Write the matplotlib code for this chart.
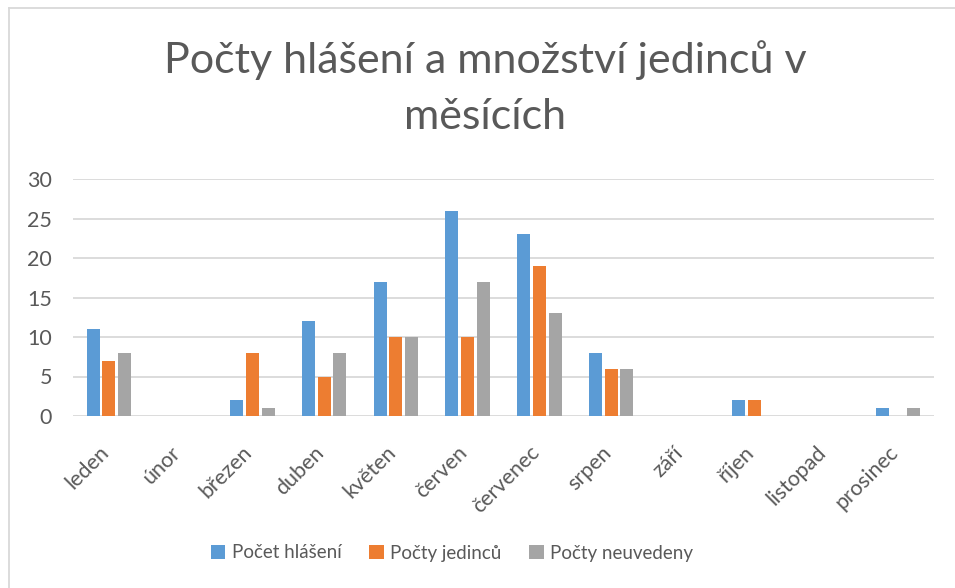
import matplotlib
matplotlib.use("Agg")
import matplotlib.pyplot as plt
import matplotlib.transforms as mtransforms
from matplotlib.lines import Line2D
import numpy as np

plt.rcParams['font.family'] = ['Lato', 'DejaVu Sans']

months = ["leden", "únor", "březen", "duben", "květen", "červen",
          "červenec", "srpen", "září", "říjen", "listopad", "prosinec"]
pocet_hlaseni = [11, 0, 2, 12, 17, 26, 23, 8, 0, 2, 0, 1]
pocty_jedincu = [7, 0, 8, 5, 10, 10, 19, 6, 0, 2, 0, 0]
pocty_neuvedeny = [8, 0, 1, 8, 10, 17, 13, 6, 0, 0, 0, 1]
series_names = ["Počet hlášení", "Počty jedinců", "Počty neuvedeny"]
colors = ["#5B9BD5", "#ED7D31", "#A5A5A5"]
title = "Počty hlášení a množství jedinců v\nměsících"

W, H = 955, 588
fig = plt.figure(figsize=(W / 100, H / 100), dpi=100)
txt = "#595959"

ax = fig.add_axes([73 / W, 1 - 416 / H, (934 - 73) / W, (416 - 179) / H])
x = np.arange(len(months))
bw = 0.18
off = 0.22
for i, (vals, c, name) in enumerate(zip([pocet_hlaseni, pocty_jedincu, pocty_neuvedeny], colors, series_names)):
    ax.bar(x + (i - 1) * off, vals, width=bw, color=c, label=name, zorder=3)

ax.set_xlim(-0.5, len(months) - 0.5)
ax.set_ylim(0, 30)
ax.set_yticks(range(0, 31, 5))
ax.yaxis.grid(True, color="#D9D9D9", linewidth=1.3, zorder=0)
for s in ax.spines.values():
    s.set_visible(False)
ax.tick_params(axis='both', length=0, colors=txt, labelsize=15.5)
ax.tick_params(axis='y', pad=15)
ax.tick_params(axis='x', pad=19)
ax.set_xticks(x)
ax.set_xticklabels(months, rotation=45, ha='right', va='top')
offset = mtransforms.ScaledTranslation(4 / 100, 0, fig.dpi_scale_trans)
for lbl in ax.get_xticklabels():
    lbl.set_transform(lbl.get_transform() + offset)
for lbl in ax.get_yticklabels():
    lbl.set_color(txt)

fig.text(485 / W, 1 - 40 / H, title, ha='center', va='top', fontsize=31,
         color=txt, linespacing=1.58)

handles, labels = ax.get_legend_handles_labels()
leg = fig.legend(handles, labels, loc='center', bbox_to_anchor=(452 / W, 1 - 553 / H),
                 ncol=3, frameon=False, fontsize=13.5, handlelength=0.75, handleheight=0.75,
                 handletextpad=0.35, columnspacing=1.5)
for t in leg.get_texts():
    t.set_color(txt)

# chart border (top and left visible)
fig.add_artist(Line2D([9 / W, 1], [1 - 8 / H, 1 - 8 / H], color="#D9D9D9", linewidth=1.3))
fig.add_artist(Line2D([9 / W, 9 / W], [0, 1 - 8 / H], color="#D9D9D9", linewidth=1.3))

fig.savefig("out.png", dpi=100, facecolor="white")
